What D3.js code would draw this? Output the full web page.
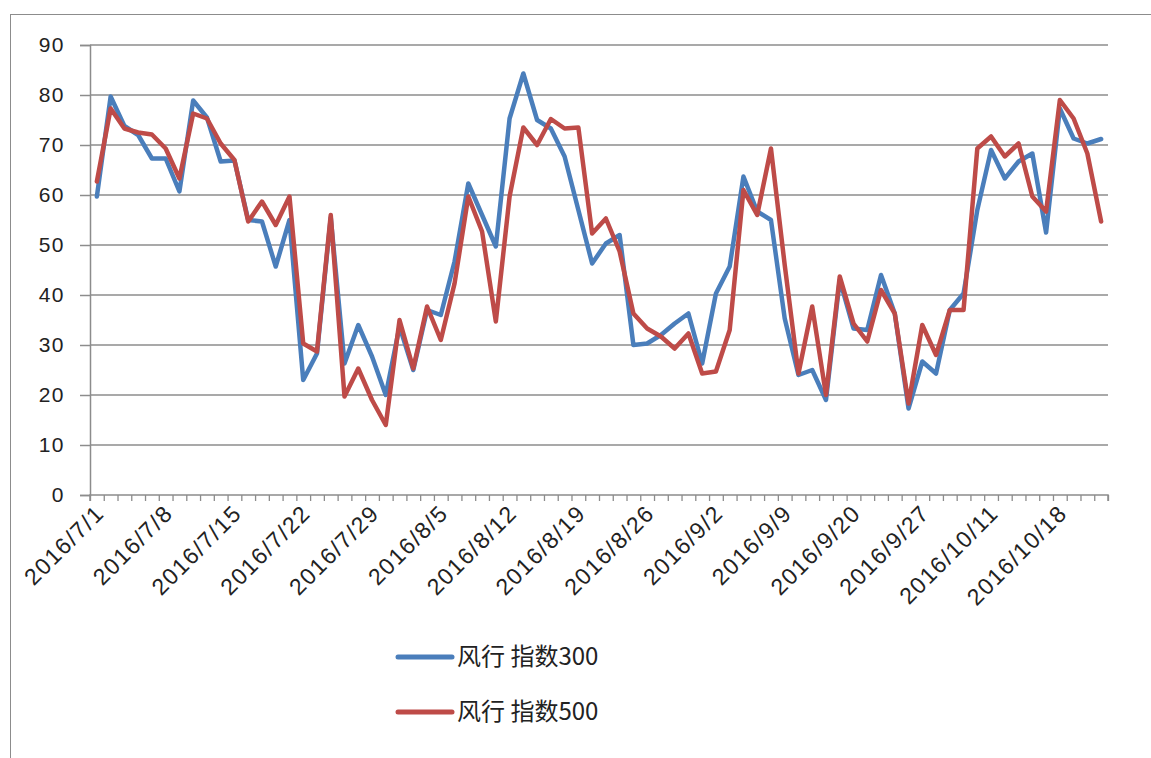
<!DOCTYPE html>
<html><head><meta charset="utf-8">
<script src="https://cdn.jsdelivr.net/npm/d3@7"></script>
<style>
html,body{margin:0;padding:0;background:#fff;}
svg{display:block;}
</style></head>
<body>
<svg id="chart" width="1151" height="758"></svg>
<script>
const categories = [
 "2016/7/1","2016/7/4","2016/7/5","2016/7/6","2016/7/7","2016/7/8","2016/7/11","2016/7/12","2016/7/13","2016/7/14",
 "2016/7/15","2016/7/18","2016/7/19","2016/7/20","2016/7/21","2016/7/22","2016/7/25","2016/7/26","2016/7/27","2016/7/28",
 "2016/7/29","2016/8/1","2016/8/2","2016/8/3","2016/8/4","2016/8/5","2016/8/8","2016/8/9","2016/8/10","2016/8/11",
 "2016/8/12","2016/8/15","2016/8/16","2016/8/17","2016/8/18","2016/8/19","2016/8/22","2016/8/23","2016/8/24","2016/8/25",
 "2016/8/26","2016/8/29","2016/8/30","2016/8/31","2016/9/1","2016/9/2","2016/9/5","2016/9/6","2016/9/7","2016/9/8",
 "2016/9/9","2016/9/12","2016/9/13","2016/9/14","2016/9/19","2016/9/20","2016/9/21","2016/9/22","2016/9/23","2016/9/26",
 "2016/9/27","2016/9/28","2016/9/29","2016/9/30","2016/10/10","2016/10/11","2016/10/12","2016/10/13","2016/10/14","2016/10/17",
 "2016/10/18","2016/10/19","2016/10/20","2016/10/21"
];
const series300 = [
 59.7,79.7,73.8,72.0,67.3,67.3,60.7,78.9,75.5,66.7,
 66.9,55.0,54.7,45.7,55.0,23.0,28.3,55.5,26.3,34.0,
 27.7,20.0,33.7,25.0,37.0,36.0,46.7,62.3,56.0,49.7,
 75.3,84.3,75.0,73.3,67.7,57.0,46.3,50.3,52.0,30.0,
 30.3,32.0,34.3,36.3,26.3,40.3,45.7,63.7,56.7,55.0,
 35.3,24.0,25.0,19.0,43.0,33.3,33.0,44.0,36.3,17.3,
 26.7,24.3,37.0,40.3,57.0,69.0,63.3,66.7,68.3,52.5,
 77.3,71.3,70.3,71.2
];
const series500 = [
 62.7,77.3,73.3,72.5,72.1,69.3,63.3,76.3,75.3,70.3,
 67.0,54.7,58.7,54.0,59.7,30.3,28.7,56.0,19.7,25.3,
 19.0,14.0,35.0,25.3,37.7,31.0,42.3,59.7,52.7,34.7,
 59.7,73.5,70.0,75.2,73.3,73.5,52.3,55.3,48.7,36.3,
 33.3,31.7,29.3,32.3,24.3,24.7,33.0,61.0,56.0,69.3,
 46.0,24.3,37.7,20.0,43.7,34.3,30.7,41.0,36.3,18.3,
 34.0,28.0,37.0,37.0,69.3,71.7,67.7,70.3,59.7,56.7,
 79.0,75.3,68.3,54.7
];
const yTicks = [0,10,20,30,40,50,60,70,80,90];
const seriesNames = ["风行 指数300","风行 指数500"];
const seriesColors = ["#4A7EBB","#BE4B48"];
const labelEvery = 5;

const svg = d3.select("#chart");
const L = 90, R = 1108, T = 45, B = 495;
const gridColor = "#8c8c8c";
const latinFont = "'Liberation Sans', Arial, sans-serif";

// outer border
svg.append("rect").attr("x",10.5).attr("y",14.5).attr("width",1200).attr("height",800)
  .attr("fill","none").attr("stroke","#8c8c8c").attr("stroke-width",1);

const x = d3.scaleBand().domain(categories).range([L,R]).padding(0);
const xi = d3.scaleLinear().domain([0,categories.length]).range([L,R]);
const y = d3.scaleLinear().domain([0,90]).range([B,T]);

// gridlines
svg.append("g").selectAll("line").data(yTicks.filter(d=>d>0)).join("line")
  .attr("x1",L).attr("x2",R).attr("y1",d=>y(d)).attr("y2",d=>y(d))
  .attr("stroke",gridColor).attr("stroke-width",1.5);

// y axis
const yAxis = svg.append("g").attr("transform",`translate(${L},0)`)
  .call(d3.axisLeft(y).tickValues(yTicks).tickSize(10).tickPadding(15).tickFormat(d3.format("d")));
yAxis.select(".domain").attr("stroke",gridColor).attr("stroke-width",1.5);
yAxis.selectAll(".tick line").attr("stroke",gridColor).attr("stroke-width",1.5);
yAxis.selectAll(".tick text").attr("fill","#222").style("font-family",latinFont)
  .style("font-size","21px").style("letter-spacing","1.5px");

// x axis with ticks at category boundaries
const xAxis = svg.append("g").attr("transform",`translate(0,${B})`)
  .call(d3.axisBottom(xi).tickValues(d3.range(categories.length+1)).tickSize(6).tickFormat(""));
xAxis.select(".domain").attr("stroke",gridColor).attr("stroke-width",1.5).attr("d",`M${L},6V0H${R}V6`);
xAxis.selectAll(".tick line").attr("stroke",gridColor).attr("stroke-width",1.3);

// x labels
svg.append("g").selectAll("text")
  .data(categories.filter((d,i)=>i%labelEvery===0)).join("text")
  .attr("transform",d=>`translate(${x(d)+x.bandwidth()/2+3},${B+14}) rotate(-45)`)
  .attr("text-anchor","end").attr("dy","0.35em")
  .attr("fill","#222").style("font-family",latinFont).style("font-size","23px")
  .style("letter-spacing","1.5px")
  .text(d=>d);

// lines
const line = d3.line().x((d,i)=>x(categories[i])+x.bandwidth()/2).y(d=>y(d));
[series300, series500].forEach((s,k)=>{
  svg.append("path").datum(s).attr("d",line).attr("fill","none")
    .attr("stroke",seriesColors[k]).attr("stroke-width",4.5)
    .attr("stroke-linejoin","round").attr("stroke-linecap","round");
});

// legend
const legend = svg.append("g");
seriesNames.forEach((n,k)=>{
  const ly = 657 + k*55;
  legend.append("line").attr("x1",398).attr("x2",452).attr("y1",ly).attr("y2",ly)
    .attr("stroke",seriesColors[k]).attr("stroke-width",5).attr("stroke-linecap","round");
  legend.append("text").attr("x",457).attr("y",ly).attr("dy","0.35em")
    .attr("fill","#222").style("font-family","'Noto Sans CJK SC', sans-serif").style("font-size","24px")
    .text(n);
});
</script>
</body></html>
